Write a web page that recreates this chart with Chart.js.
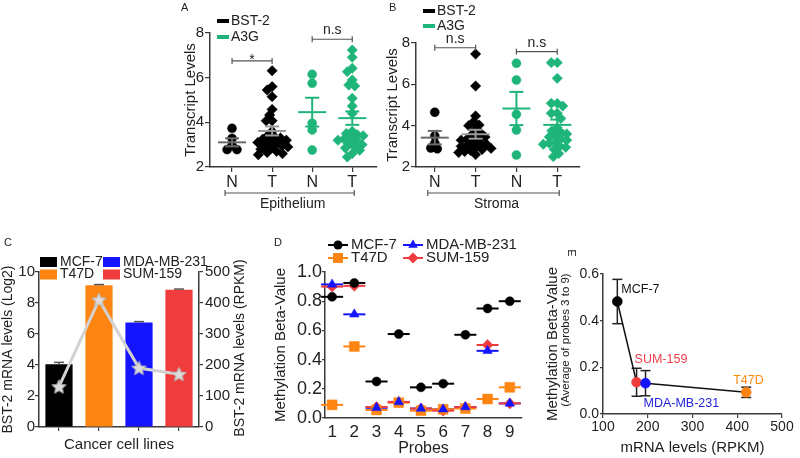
<!DOCTYPE html>
<html><head><meta charset="utf-8">
<script src="https://cdn.jsdelivr.net/npm/chart.js@4.4.1/dist/chart.umd.min.js"></script>
<style>
html,body{margin:0;padding:0;background:#fff;width:800px;height:458px;overflow:hidden;position:relative}
canvas{position:absolute}
</style></head><body>
<canvas id="cA" width="232" height="225" style="left:150px;top:0px;width:232px;height:225px"></canvas>
<canvas id="cB" width="205" height="225" style="left:380px;top:0px;width:205px;height:225px"></canvas>
<canvas id="cC" width="260" height="228" style="left:0px;top:230px;width:260px;height:228px"></canvas>
<canvas id="cD" width="270" height="228" style="left:270px;top:230px;width:270px;height:228px"></canvas>
<canvas id="cE" width="260" height="228" style="left:540px;top:230px;width:260px;height:228px"></canvas>
<script>
// ---------------- DATA ----------------
// Panels A & B: transcript levels
const groupLabels = ['N', 'T', 'N', 'T'];
const epiBst2Normal = [3.73, 3.28, 2.95, 2.78, 2.78];
const epiBst2Tumor = [6.31, 5.6, 5.45, 5.15, 4.58, 4.33, 4.07, 4.07, 3.6, 3.3, 3.1, 2.9, 3.4, 3.35, 3.25, 3.2, 3.15, 3.05, 3.0, 2.95, 2.85, 2.8, 2.7, 2.6, 2.55, 2.65];
const epiA3gNormal = [6.15, 5.75, 3.96, 3.66, 2.76];
const epiA3gTumor = [7.24, 6.91, 6.42, 6.27, 5.9, 5.67, 5.63, 5.08, 4.73, 4.4, 3.6, 3.5, 3.45, 3.4, 3.3, 3.25, 3.2, 3.15, 3.05, 3.0, 2.9, 2.85, 2.75, 2.6, 2.45];
const strBst2Normal = [4.65, 3.5, 3.15, 2.92, 2.88];
const strBst2Tumor = [7.47, 5.92, 4.47, 4.19, 4.03, 4.0, 3.8, 3.65, 3.55, 3.45, 3.4, 3.35, 3.3, 3.2, 3.15, 3.1, 3.05, 3.0, 2.95, 2.9, 2.85, 2.8, 2.75, 2.7, 2.6];
const strA3gNormal = [7.02, 6.21, 4.55, 3.79, 2.58];
const strA3gTumor = [7.05, 7.05, 6.29, 5.08, 5.08, 4.95, 4.6, 4.6, 4.35, 3.9, 3.75, 3.65, 3.6, 3.5, 3.45, 3.35, 3.3, 3.2, 3.15, 3.1, 3.0, 2.95, 2.85, 2.65, 2.5];
const sigEpithelium = [{from: 1, to: 2, y: 6.75, label: '*'}, {from: 3, to: 4, y: 7.72, label: 'n.s'}];
const sigStroma = [{from: 1, to: 2, y: 7.77, label: 'n.s'}, {from: 3, to: 4, y: 7.58, label: 'n.s'}];

// Panel C
const cellLines = ['MCF-7', 'T47D', 'MDA-MB-231', 'SUM-159'];
const log2Levels = [4.05, 9.15, 6.75, 8.85];
const log2Sem = [0.12, 0.04, 0.05, 0.05];
const rpkmLevels = [130, 410, 190, 170];

// Panel D
const probes = ['1', '2', '3', '4', '5', '6', '7', '8', '9'];
const betaMcf7 = [0.83, 0.925, 0.25, 0.575, 0.21, 0.235, 0.57, 0.75, 0.80];
const betaT47d = [0.09, 0.49, 0.055, 0.105, 0.05, 0.06, 0.065, 0.13, 0.21];
const betaMda = [0.915, 0.71, 0.07, 0.11, 0.065, 0.06, 0.075, 0.46, 0.10];
const betaSum = [0.90, 0.905, 0.075, 0.11, 0.065, 0.05, 0.075, 0.50, 0.10];

// Panel E
const eCells = ['MCF-7', 'SUM-159', 'MDA-MB-231', 'T47D'];
const eRpkm = [132, 175, 195, 420];
const eBeta = [0.482, 0.136, 0.132, 0.093];
const eSem = [0.095, 0.06, 0.054, 0.022];

// ---------------- STYLE ----------------
const FONT = "'Liberation Sans', Arial, Helvetica, sans-serif";
Chart.defaults.font.family = FONT;
Chart.defaults.color = '#222';
const AX = '#3a3a3a';
const GREEN = '#1fb57a';
const cellColors = {'MCF-7': '#000000', 'T47D': '#ff8512', 'MDA-MB-231': '#1414ff', 'SUM-159': '#f03c3c'};

function txt(ctx, s, x, y, o) {
  o = o || {};
  ctx.save();
  ctx.translate(x, y);
  ctx.rotate(o.rot || 0);
  ctx.font = (o.size || 14) + 'px ' + FONT;
  ctx.fillStyle = o.color || '#222';
  ctx.textAlign = o.align || 'left';
  ctx.textBaseline = o.base || 'middle';
  ctx.fillText(s, 0, 0);
  ctx.restore();
}
function seg(ctx, x1, y1, x2, y2) { ctx.beginPath(); ctx.moveTo(x1, y1); ctx.lineTo(x2, y2); ctx.stroke(); }

// deterministic beeswarm layout (offsets in group units)
function swarmOffsets(values, pxPerY, pxPerX, diam) {
  const order = values.map((v, i) => i).sort((a, b) => values[b] - values[a]);
  const placed = [];
  const offs = new Array(values.length).fill(0);
  order.forEach(i => {
    const py = values[i] * pxPerY;
    for (let k = 0; k < 400; k++) {
      const dx = (k % 2 ? -1 : 1) * Math.ceil(k / 2) * 0.5;
      if (placed.every(p => (p.x - dx) ** 2 + (p.y - py) ** 2 >= diam * diam)) {
        placed.push({x: dx, y: py}); offs[i] = dx / pxPerX; break;
      }
    }
  });
  return offs;
}

function axisGrid(tl) { return {drawOnChartArea: false, drawTicks: tl > 0, tickLength: tl, color: AX, lineWidth: 1.2}; }
const axisBorder = {color: AX, width: 1.5};

// ---------------- PANELS A & B ----------------
function scatterPanel(id, o) {
  const datasets = o.groups.map((g, gi) => {
    const offs = swarmOffsets(g.values, o.pyUnit, o.pxGroup, 6);
    return {
      data: g.values.map((v, i) => ({x: gi + 1 + offs[i], y: v})),
      pointStyle: g.shape, pointRadius: g.r, pointBackgroundColor: g.color,
      pointBorderColor: g.color, pointBorderWidth: 0.5, showLine: false, clip: false
    };
  });
  new Chart(document.getElementById(id), {
    type: 'scatter',
    data: {datasets},
    options: {
      responsive: false, animation: false, devicePixelRatio: 1,
      layout: {padding: {top: o.top, right: o.right, left: 0, bottom: 0}},
      plugins: {legend: {display: false}, tooltip: {enabled: false}},
      scales: {
        x: {type: 'linear', min: o.xmin, max: o.xmax,
          afterBuildTicks: s => { s.ticks = groupLabels.map((_, i) => ({value: i + 1})); },
          ticks: {callback: v => groupLabels[Math.round(v) - 1], font: {size: 16}, padding: 1, maxRotation: 0, minRotation: 0, autoSkip: false, color: '#222'},
          grid: axisGrid(5), border: axisBorder, afterFit: s => { s.height = o.xh; }},
        y: {min: 2, max: 8, ticks: {stepSize: 2, font: {size: 15}, padding: 1, color: '#222'},
          grid: axisGrid(5), border: axisBorder,
          title: {display: true, text: 'Transcript Levels', font: {size: 15}, color: '#222', padding: {top: o.titlePad, bottom: 0}},
          afterFit: s => { s.width = o.yw; }}
      }
    },
    plugins: [{id: 'deco' + id, afterDatasetsDraw(chart) {
      const {ctx, scales: {x, y}, chartArea} = chart;
      ctx.save();
      // mean +/- SEM
      o.groups.forEach((g, gi) => {
        const n = g.values.length;
        const m = g.values.reduce((a, b) => a + b, 0) / n;
        const sd = Math.sqrt(g.values.reduce((a, b) => a + (b - m) ** 2, 0) / (n - 1));
        const se = sd / Math.sqrt(n);
        const cx = x.getPixelForValue(gi + 1);
        const ym = y.getPixelForValue(m), y1 = y.getPixelForValue(m - se), y2 = y.getPixelForValue(m + se);
        ctx.strokeStyle = g.meanColor; ctx.lineWidth = 2;
        seg(ctx, cx - 14, ym, cx + 14, ym);
        seg(ctx, cx, y1, cx, y2);
        seg(ctx, cx - 7, y1, cx + 7, y1);
        seg(ctx, cx - 7, y2, cx + 7, y2);
      });
      // significance brackets
      ctx.strokeStyle = '#555'; ctx.lineWidth = 1.2;
      o.sigs.forEach(s => {
        const x1 = x.getPixelForValue(s.from), x2 = x.getPixelForValue(s.to), yy = y.getPixelForValue(s.y);
        seg(ctx, x1, yy, x2, yy);
        seg(ctx, x1, yy - 3, x1, yy + 3);
        seg(ctx, x2, yy - 3, x2, yy + 3);
        if (s.label === '*') txt(ctx, s.label, (x1 + x2) / 2, yy + 3, {size: 14, align: 'center', base: 'alphabetic'});
        else txt(ctx, s.label, (x1 + x2) / 2, yy - 9, {size: 14, align: 'center'});
      });
      // region bracket
      const rx1 = x.getPixelForValue(1) - 7, rx2 = x.getPixelForValue(4) + 2, ry = chartArea.bottom + 26;
      ctx.strokeStyle = '#555'; ctx.lineWidth = 1.2;
      seg(ctx, rx1, ry, rx2, ry);
      seg(ctx, rx1, ry - 3, rx1, ry + 3);
      seg(ctx, rx2, ry - 3, rx2, ry + 3);
      txt(ctx, o.region, (rx1 + rx2) / 2 + 3, ry + 11, {size: 14, align: 'center'});
      // legend
      o.legend.forEach(l => {
        ctx.fillStyle = l.color;
        ctx.fillRect(o.legX, l.y - 2, 12, 4);
        txt(ctx, l.text, o.legX + 14, l.y, {size: 14});
      });
      txt(ctx, o.letter, o.letterX, o.letterY, {size: 11});
      ctx.restore();
    }}]
  });
}

scatterPanel('cA', {
  groups: [
    {values: epiBst2Normal, color: '#000', meanColor: '#6a6a6a', shape: 'circle', r: 4.5},
    {values: epiBst2Tumor, color: '#000', meanColor: '#9a9a9a', shape: 'rectRot', r: 5.2},
    {values: epiA3gNormal, color: GREEN, meanColor: GREEN, shape: 'circle', r: 4.5},
    {values: epiA3gTumor, color: GREEN, meanColor: GREEN, shape: 'rectRot', r: 5.2}
  ],
  pyUnit: 22.3, pxGroup: 40.7, xmin: 0.45, xmax: 4.6,
  top: 33, right: 2, xh: 58, yw: 60, titlePad: 31.5,
  sigs: sigEpithelium, region: 'Epithelium',
  legX: 67, legend: [{text: 'BST-2', color: '#000', y: 21}, {text: 'A3G', color: GREEN, y: 37}],
  letter: 'A', letterX: 31, letterY: 8
});
scatterPanel('cB', {
  groups: [
    {values: strBst2Normal, color: '#000', meanColor: '#6a6a6a', shape: 'circle', r: 4.5},
    {values: strBst2Tumor, color: '#000', meanColor: '#9a9a9a', shape: 'rectRot', r: 5.2},
    {values: strA3gNormal, color: GREEN, meanColor: GREEN, shape: 'circle', r: 4.5},
    {values: strA3gTumor, color: GREEN, meanColor: GREEN, shape: 'rectRot', r: 5.2}
  ],
  pyUnit: 20.7, pxGroup: 41, xmin: 0.54, xmax: 4.54,
  top: 43, right: 5, xh: 58, yw: 36, titlePad: 4,
  sigs: sigStroma, region: 'Stroma',
  legX: 43, legend: [{text: 'BST-2', color: '#000', y: 11}, {text: 'A3G', color: GREEN, y: 26}],
  letter: 'B', letterX: 9, letterY: 8
});

// ---------------- PANEL C ----------------
function makeStar(size, fill, stroke) {
  const c = document.createElement('canvas');
  c.width = c.height = size;
  const g = c.getContext('2d');
  const r = size / 2 - 1, ri = r * 0.45, cx = size / 2, cy = size / 2 + 0.5;
  g.beginPath();
  for (let i = 0; i < 10; i++) {
    const a = -Math.PI / 2 + i * Math.PI / 5, rr = i % 2 ? ri : r;
    g.lineTo(cx + rr * Math.cos(a), cy + rr * Math.sin(a));
  }
  g.closePath(); g.fillStyle = fill; g.fill(); g.strokeStyle = stroke; g.lineWidth = 1; g.stroke();
  return c;
}
const starImg = makeStar(17, '#dcdcdc', '#b8b8b8');

new Chart(document.getElementById('cC'), {
  type: 'bar',
  data: {labels: cellLines, datasets: [
    {type: 'line', data: rpkmLevels, yAxisID: 'y1', borderColor: '#d2d2d2', borderWidth: 3,
      pointStyle: starImg, pointRadius: 8, order: 1, clip: false},
    {type: 'bar', data: log2Levels, yAxisID: 'y', backgroundColor: cellLines.map(c => cellColors[c]),
      barPercentage: 0.68, categoryPercentage: 1, order: 2}
  ]},
  options: {
    responsive: false, animation: false, devicePixelRatio: 1,
    layout: {padding: {top: 42, right: 0, left: 0, bottom: 0}},
    plugins: {legend: {display: false}, tooltip: {enabled: false}},
    scales: {
      x: {grid: Object.assign(axisGrid(4), {offset: false}), ticks: {display: false}, border: axisBorder,
        title: {display: true, text: 'Cancer cell lines', font: {size: 15}, color: '#222', padding: {top: 0, bottom: 4}},
        afterFit: s => { s.height = 31; }},
      y: {position: 'left', min: 0, max: 10, ticks: {stepSize: 2, font: {size: 15}, padding: 0, color: '#222'},
        grid: axisGrid(4), border: axisBorder,
        title: {display: true, text: 'BST-2 mRNA levels (Log2)', font: {size: 14}, color: '#222', padding: {top: 0, bottom: 0}},
        afterFit: s => { s.width = 39; }},
      y1: {position: 'right', min: 0, max: 500, ticks: {stepSize: 100, font: {size: 15}, padding: 2, color: '#222'},
        grid: axisGrid(4), border: axisBorder, afterFit: s => { s.width = 61; }}
    }
  },
  plugins: [{id: 'decoC', afterDatasetsDraw(chart) {
    const {ctx, scales: {x, y}} = chart;
    ctx.save();
    ctx.strokeStyle = '#555'; ctx.lineWidth = 1.5;
    log2Levels.forEach((v, i) => {
      const cx = x.getPixelForValue(i), y0 = y.getPixelForValue(v), y1 = y.getPixelForValue(v + log2Sem[i]);
      seg(ctx, cx, y0, cx, y1);
      seg(ctx, cx - 5, y1, cx + 5, y1);
    });
    // legend
    const rows = [[0, 2], [1, 3]];
    const rowY = [32, 44.5];
    rows.forEach((r, ri) => {
      r.forEach((ci, k) => {
        const bx = k === 0 ? 40 : 103;
        ctx.fillStyle = cellColors[cellLines[ci]];
        ctx.fillRect(bx, rowY[ri] - 5, 17, 10);
        txt(ctx, cellLines[ci], bx + 20, rowY[ri], {size: 14});
      });
    });
    txt(ctx, 'BST-2 mRNA levels (RPKM)', 240, 118, {size: 14, align: 'center', rot: -Math.PI / 2});
    txt(ctx, 'C', 8, 13, {size: 11, align: 'center'});
    ctx.restore();
  }}]
});

// ---------------- PANEL D ----------------
const dSeries = [
  {label: 'MCF-7', values: betaMcf7, style: 'circle', r: 4.5},
  {label: 'MDA-MB-231', values: betaMda, style: 'triangle', r: 5.5},
  {label: 'T47D', values: betaT47d, style: 'rect', r: 7},
  {label: 'SUM-159', values: betaSum, style: 'rectRot', r: 5.5}
];
new Chart(document.getElementById('cD'), {
  type: 'scatter',
  data: {datasets: dSeries.map(s => ({
    label: s.label,
    data: s.values.map((v, i) => ({x: i + 1, y: v})),
    pointStyle: s.style, pointRadius: s.r, pointBackgroundColor: cellColors[s.label],
    pointBorderColor: cellColors[s.label], pointBorderWidth: 0.5, clip: false
  }))},
  options: {
    responsive: false, animation: false, devicePixelRatio: 1,
    layout: {padding: {top: 42, right: 18, left: 0, bottom: 0}},
    plugins: {legend: {display: false}, tooltip: {enabled: false}},
    scales: {
      x: {type: 'linear', min: 0.68, max: 9.55,
        afterBuildTicks: s => { s.ticks = probes.map((_, i) => ({value: i + 1})); },
        ticks: {callback: v => probes[Math.round(v) - 1], font: {size: 17}, padding: 4, maxRotation: 0, minRotation: 0, autoSkip: false, color: '#222'},
        grid: axisGrid(0), border: axisBorder,
        title: {display: true, text: 'Probes', font: {size: 16}, color: '#222', padding: {top: 0, bottom: 0}},
        afterFit: s => { s.height = 40; }},
      y: {min: 0, max: 1, ticks: {stepSize: 0.2, callback: v => v.toFixed(1), font: {size: 18}, padding: 0, color: '#222'},
        grid: axisGrid(3), border: axisBorder,
        title: {display: true, text: 'Methylation Beta-Value', font: {size: 15}, color: '#222', padding: {top: 1.5, bottom: 0}},
        afterFit: s => { s.width = 55; }}
    }
  },
  plugins: [{id: 'decoD',
    beforeDatasetsDraw(chart) {
      const {ctx} = chart;
      ctx.save(); ctx.lineWidth = 2;
      chart.data.datasets.forEach((ds, di) => {
        ctx.strokeStyle = cellColors[ds.label];
        chart.getDatasetMeta(di).data.forEach(pt => seg(ctx, pt.x - 11, pt.y, pt.x + 11, pt.y));
      });
      ctx.restore();
    },
    afterDatasetsDraw(chart) {
      const {ctx} = chart;
      ctx.save();
      const pos = {'MCF-7': [68, 15], 'T47D': [68, 28], 'MDA-MB-231': [143, 15], 'SUM-159': [143, 28]};
      dSeries.forEach(s => {
        const [mx, my] = pos[s.label];
        const col = cellColors[s.label];
        ctx.strokeStyle = col; ctx.fillStyle = col; ctx.lineWidth = 2;
        seg(ctx, mx - 10, my, mx + 10, my);
        Chart.helpers.drawPoint(ctx, {pointStyle: s.style, radius: s.r, rotation: 0, borderWidth: 0}, mx, my);
        txt(ctx, s.label, mx + 13, my, {size: 15});
      });
      txt(ctx, 'D', 8, 13, {size: 11, align: 'center'});
      ctx.restore();
    }
  }]
});

// ---------------- PANEL E ----------------
const eLabelOffsets = {'MCF-7': [4, -12], 'SUM-159': [-2, -23], 'MDA-MB-231': [-2, 20], 'T47D': [-13, -12]};
const eLabelColors = {'MCF-7': '#111', 'SUM-159': '#ee3d4a', 'MDA-MB-231': '#2222dd', 'T47D': '#ff8a10'};
new Chart(document.getElementById('cE'), {
  type: 'scatter',
  data: {datasets: [{
    data: eRpkm.map((v, i) => ({x: v, y: eBeta[i]})),
    showLine: true, borderColor: '#111', borderWidth: 1.5,
    pointRadius: 5, pointBackgroundColor: eCells.map(c => cellColors[c]),
    pointBorderColor: eCells.map(c => cellColors[c]), pointBorderWidth: 0.5, clip: false
  }]},
  options: {
    responsive: false, animation: false, devicePixelRatio: 1,
    layout: {padding: {top: 44, right: 18, left: 0, bottom: 0}},
    plugins: {legend: {display: false}, tooltip: {enabled: false}},
    scales: {
      x: {type: 'linear', min: 100, max: 500, ticks: {stepSize: 100, font: {size: 14}, padding: 1, maxRotation: 0, color: '#222'},
        grid: axisGrid(4), border: axisBorder,
        title: {display: true, text: 'mRNA levels (RPKM)', font: {size: 15}, color: '#222', padding: {top: 0, bottom: 1}},
        afterFit: s => { s.height = 44; }},
      y: {min: 0, max: 0.6, ticks: {stepSize: 0.2, callback: v => v.toFixed(1), font: {size: 14}, padding: 1, color: '#222'},
        grid: axisGrid(3), border: axisBorder,
        title: {display: true, text: 'Methylation Beta-Value', font: {size: 15}, color: '#222', padding: {top: 4, bottom: 0}},
        afterFit: s => { s.width = 63; }}
    }
  },
  plugins: [{id: 'decoE',
    beforeDatasetsDraw(chart) {
      const {ctx, scales: {x, y}} = chart;
      ctx.save(); ctx.strokeStyle = '#222'; ctx.lineWidth = 1.5;
      eRpkm.forEach((v, i) => {
        const cx = x.getPixelForValue(v), y1 = y.getPixelForValue(eBeta[i] - eSem[i]), y2 = y.getPixelForValue(eBeta[i] + eSem[i]);
        seg(ctx, cx, y1, cx, y2); seg(ctx, cx - 5, y1, cx + 5, y1); seg(ctx, cx - 5, y2, cx + 5, y2);
      });
      ctx.restore();
    },
    afterDatasetsDraw(chart) {
      const {ctx} = chart;
      ctx.save();
      chart.getDatasetMeta(0).data.forEach((pt, i) => {
        const c = eCells[i], off = eLabelOffsets[c];
        txt(ctx, c, pt.x + off[0], pt.y + off[1], {size: 12.5, color: eLabelColors[c]});
      });
      txt(ctx, '(Average of probes 3 to 9)', 26, 110, {size: 11.5, align: 'center', rot: -Math.PI / 2});
      txt(ctx, 'E', 31, 23, {size: 11, align: 'center', rot: Math.PI / 2});
      ctx.restore();
    }
  }]
});
</script>
</body></html>
